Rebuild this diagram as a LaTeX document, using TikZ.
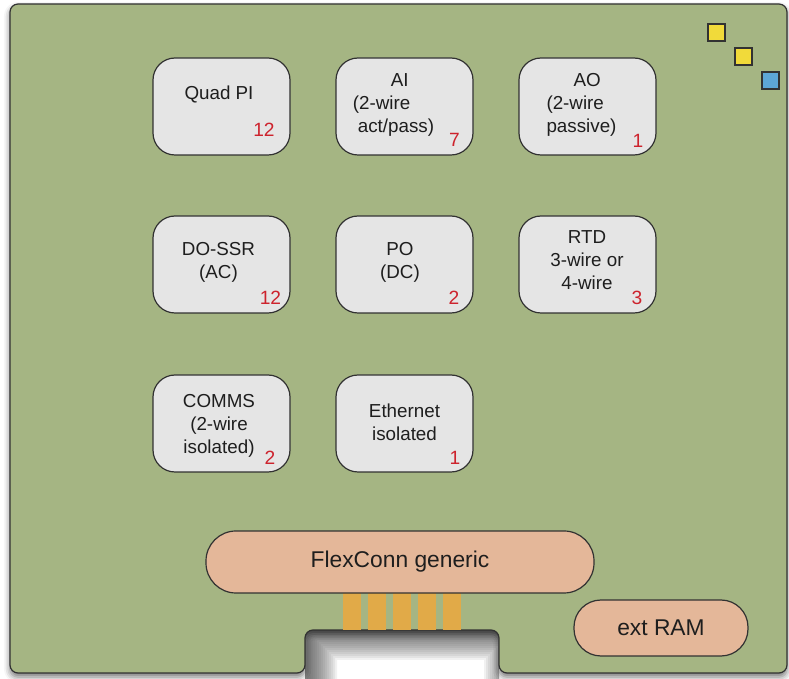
\documentclass[tikz,border=0pt]{standalone}
\usepackage{fontspec}
\setmainfont{Liberation Sans}
\usepackage{tikz}
\usetikzlibrary{shadows.blur}
\usepackage{xcolor}

\definecolor{boardgreen}{RGB}{165,181,131}
\definecolor{boxgray}{RGB}{229,229,229}
\definecolor{edgegray}{RGB}{50,50,50}
\definecolor{pillpeach}{RGB}{228,183,153}
\definecolor{goldpad}{RGB}{225,170,72}
\definecolor{ledyellow}{RGB}{241,218,58}
\definecolor{ledblue}{RGB}{93,166,214}
\definecolor{textdark}{RGB}{30,30,30}
\definecolor{cntred}{RGB}{205,35,45}

\begin{document}
\begin{tikzpicture}[x=0.5pt,y=-0.5pt,
    modbox/.style={draw=edgegray, fill=boxgray, line width=0.6pt, rounded corners=11pt,
        minimum width=68.5pt, minimum height=48.5pt, inner sep=0pt},
    lbl/.style={text=textdark, font=\fontsize{9.4}{11.5}\selectfont, align=center, inner sep=0pt},
    lbll/.style={lbl, align=left},
    cnt/.style={text=cntred, font=\fontsize{9.6}{11}\selectfont, inner sep=0pt},
    pill/.style={draw=edgegray, fill=pillpeach, line width=0.6pt, inner sep=0pt,
        text=textdark, font=\fontsize{11.4}{13}\selectfont},
    led/.style={draw=edgegray, line width=0.6pt}]
    \useasboundingbox (0,0) rectangle (789,679);
    % notch shading (seen through the cut-out)
    \begin{scope}
        \clip (305,630) rectangle (499,679);
        \foreach \w in {2,4,...,28}
            \draw[black!80, opacity=0.07, line width=\w pt, rounded corners=4pt]
                (309,700) -- (309,632) -- (512,632) -- (512,700);
    \end{scope}
    % board outline with connector notch
    \draw[fill=boardgreen, draw=edgegray, line width=0.6pt, rounded corners=4pt,
        blur shadow={shadow xshift=0pt, shadow yshift=-2pt, shadow blur radius=3pt, shadow opacity=55}]
        (10,4) -- (787,4) -- (787,673) -- (499,673) -- (499,630)
        -- (305,630) -- (305,673) -- (10,673) -- cycle;
    % gold fingers
    \foreach \x in {343,368,393,418,443}
        \fill[goldpad] (\x,593) rectangle ++(18,37);
    % status squares
    \filldraw[led, fill=ledyellow] (708,24) rectangle ++(17,17);
    \filldraw[led, fill=ledyellow] (735,48) rectangle ++(17,17);
    \filldraw[led, fill=ledblue] (762,72) rectangle ++(17,17);
    % modules, row 1
    \node[modbox] (quad) at (221.5,106.5) {};
    \node[lbl] (quadtxt) at (219,94) {Quad PI};
    \node[cnt] (quadn) at (264,129.5) {12};
    \node[modbox] (ai) at (404.5,106.5) {};
    \node[lbll] (aitxt) at (393.5,105) {\hspace*{19pt}AI\\(2-wire\\\hspace*{2.5pt}act/pass)};
    \node[cnt] (ain) at (454.5,139.5) {7};
    \node[modbox] (ao) at (587.5,106.5) {};
    \node[lbll] (aotxt) at (581.5,105) {\hspace*{13.5pt}AO\\(2-wire\\passive)};
    \node[cnt] (aon) at (638,140.5) {1};
    % row 2
    \node[modbox] (dossr) at (221.5,264.5) {};
    \node[lbl] (dossrtxt) at (218.5,262) {DO-SSR\\(AC)};
    \node[cnt] (dossrn) at (270.5,297.5) {12};
    \node[modbox] (po) at (404.5,264.5) {};
    \node[lbl] (potxt) at (400,262) {PO\\(DC)};
    \node[cnt] (pon) at (454,297.5) {2};
    \node[modbox] (rtd) at (587.5,264.5) {};
    \node[lbl] (rtdtxt) at (587,260) {RTD\\3-wire or\hspace*{5pt}\\4-wire};
    \node[cnt] (rtdn) at (637,297.5) {3};
    % row 3
    \node[modbox] (comms) at (221.5,423.5) {};
    \node[lbl] (commstxt) at (219,426) {COMMS\\(2-wire\\isolated)};
    \node[cnt] (commsn) at (270,457.5) {2};
    \node[modbox] (eth) at (404.5,423.5) {};
    \node[lbl] (ethtxt) at (404.5,422) {Ethernet\\isolated};
    \node[cnt] (ethn) at (455,457.5) {1};
    % connector and memory
    \node[pill, rounded corners=15pt, minimum width=194pt, minimum height=31pt] (flex) at (400,562) {FlexConn generic};
    \node[pill, rounded corners=13.5pt, minimum width=87pt, minimum height=28pt] (ram) at (661,628) {ext RAM};
\end{tikzpicture}
\end{document}
